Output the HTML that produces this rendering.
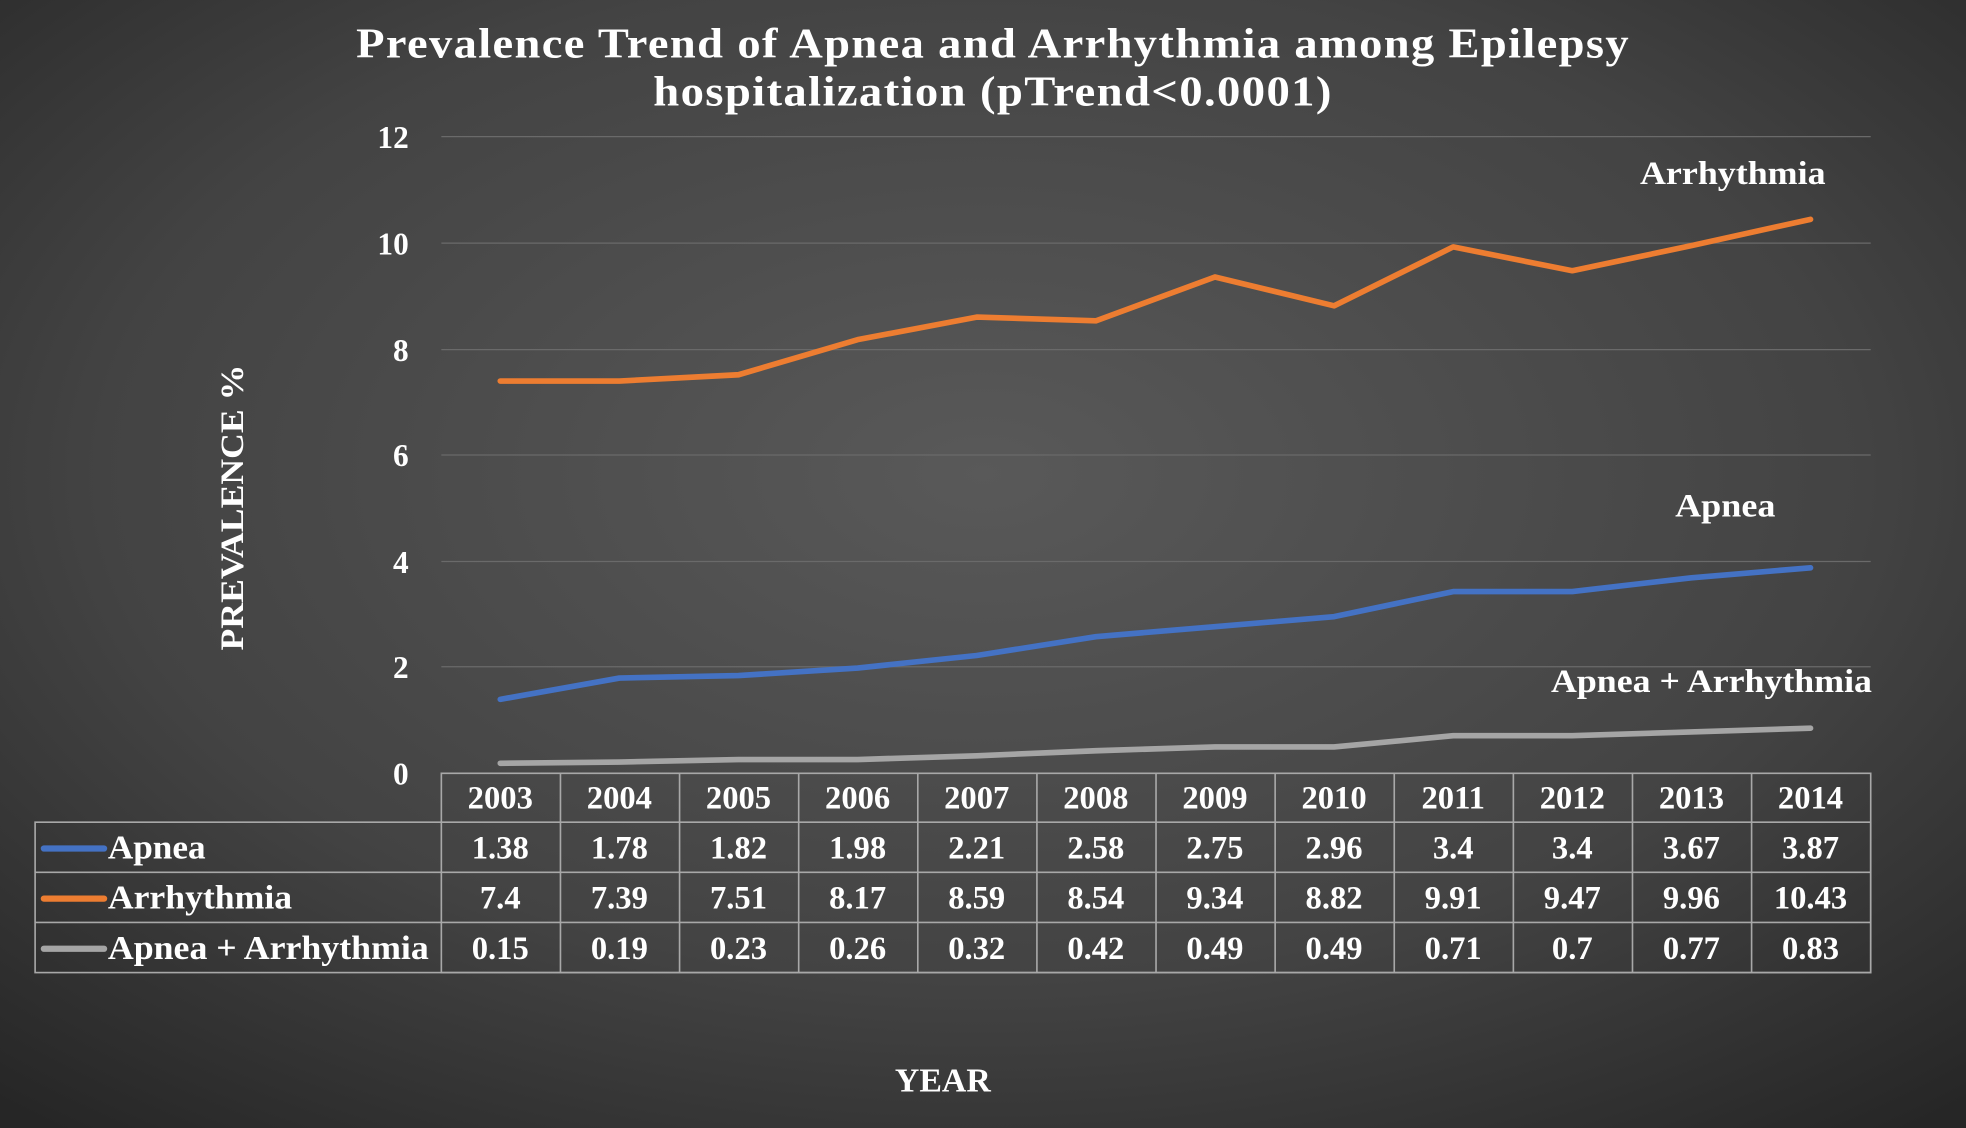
<!DOCTYPE html>
<html><head><meta charset="utf-8"><style>
html,body{margin:0;padding:0;width:1966px;height:1128px;overflow:hidden;background:#333;}
svg{display:block}
text{font-family:"Liberation Serif",serif;font-weight:bold;fill:#fff}
</style></head><body>
<svg width="1966" height="1128" viewBox="0 0 1568 900" preserveAspectRatio="none">
<defs>
<radialGradient id="bg" cx="50%" cy="42%" r="75%">
<stop offset="0" stop-color="#595959"/><stop offset="0.6" stop-color="#434343"/><stop offset="1" stop-color="#262626"/>
</radialGradient>
</defs>
<rect width="1568" height="900" fill="url(#bg)"/>
<text x="284" y="46" font-size="34" textLength="1016" lengthAdjust="spacingAndGlyphs" letter-spacing="1">Prevalence Trend of Apnea and Arrhythmia among Epilepsy</text>
<text x="521" y="84" font-size="34" textLength="542" lengthAdjust="spacingAndGlyphs" letter-spacing="1">hospitalization (pTrend&lt;0.0001)</text>
<g stroke="#6a6a6a" stroke-width="1">
<line x1="352" y1="109" x2="1492" y2="109"/><line x1="352" y1="194" x2="1492" y2="194"/>
<line x1="352" y1="279" x2="1492" y2="279"/><line x1="352" y1="363" x2="1492" y2="363"/>
<line x1="352" y1="448" x2="1492" y2="448"/><line x1="352" y1="532" x2="1492" y2="532"/>
</g>
<g font-size="25" text-anchor="end">
<text x="326" y="118">12</text><text x="326" y="203">10</text><text x="326" y="288">8</text>
<text x="326" y="372">6</text><text x="326" y="457">4</text><text x="326" y="541">2</text><text x="326" y="626">0</text>
</g>
<text transform="translate(194,405) rotate(-90)" font-size="26" text-anchor="middle" textLength="228" lengthAdjust="spacingAndGlyphs">PREVALENCE %</text>
<text x="752" y="871" font-size="27" text-anchor="middle">YEAR</text>
<g fill="none" stroke-width="4.5" stroke-linejoin="round" stroke-linecap="round">
<polyline stroke="#ED7D31" points="399,304 494,304 589,299 684,271 779,253 874,256 969,221 1064,244 1159,197 1254,216 1349,196 1444,175"/>
<polyline stroke="#4472C4" points="399,558 494,541 589,539 684,533 779,523 874,508 969,500 1064,492 1159,472 1254,472 1349,461 1444,453"/>
<polyline stroke="#A5A5A5" points="399,609 494,608 589,606 684,606 779,603 874,599 969,596 1064,596 1159,587 1254,587 1349,584 1444,581"/>
</g>
<text x="1308" y="147" font-size="26" textLength="148" lengthAdjust="spacingAndGlyphs">Arrhythmia</text>
<text x="1336" y="412" font-size="26" textLength="80" lengthAdjust="spacingAndGlyphs">Apnea</text>
<text x="1237" y="552" font-size="26" textLength="256" lengthAdjust="spacingAndGlyphs">Apnea + Arrhythmia</text>
<g stroke="#a8a8a8" stroke-width="1.3" fill="none">
<rect x="352" y="617" width="1140" height="159"/>
<rect x="28" y="656" width="1464" height="120"/>
<line x1="28" y1="696" x2="1492" y2="696"/><line x1="28" y1="736" x2="1492" y2="736"/>
<line x1="447" y1="617" x2="447" y2="776"/><line x1="542" y1="617" x2="542" y2="776"/>
<line x1="637" y1="617" x2="637" y2="776"/><line x1="732" y1="617" x2="732" y2="776"/>
<line x1="827" y1="617" x2="827" y2="776"/><line x1="922" y1="617" x2="922" y2="776"/>
<line x1="1017" y1="617" x2="1017" y2="776"/><line x1="1112" y1="617" x2="1112" y2="776"/>
<line x1="1207" y1="617" x2="1207" y2="776"/><line x1="1302" y1="617" x2="1302" y2="776"/>
<line x1="1397" y1="617" x2="1397" y2="776"/>
</g>
<g stroke-width="5" stroke-linecap="round">
<line x1="35" y1="677" x2="83" y2="677" stroke="#4472C4"/>
<line x1="35" y1="717" x2="83" y2="717" stroke="#ED7D31"/>
<line x1="35" y1="757" x2="83" y2="757" stroke="#A5A5A5"/>
</g>
<g font-size="27">
<text x="86" y="685" textLength="78" lengthAdjust="spacingAndGlyphs">Apnea</text>
<text x="86" y="725" textLength="147" lengthAdjust="spacingAndGlyphs">Arrhythmia</text>
<text x="86" y="765" textLength="256" lengthAdjust="spacingAndGlyphs">Apnea + Arrhythmia</text>
</g>
<g font-size="26" text-anchor="middle">
<text x="399" y="645">2003</text><text x="494" y="645">2004</text><text x="589" y="645">2005</text><text x="684" y="645">2006</text><text x="779" y="645">2007</text><text x="874" y="645">2008</text><text x="969" y="645">2009</text><text x="1064" y="645">2010</text><text x="1159" y="645">2011</text><text x="1254" y="645">2012</text><text x="1349" y="645">2013</text><text x="1444" y="645">2014</text>
<text x="399" y="685">1.38</text><text x="494" y="685">1.78</text><text x="589" y="685">1.82</text><text x="684" y="685">1.98</text><text x="779" y="685">2.21</text><text x="874" y="685">2.58</text><text x="969" y="685">2.75</text><text x="1064" y="685">2.96</text><text x="1159" y="685">3.4</text><text x="1254" y="685">3.4</text><text x="1349" y="685">3.67</text><text x="1444" y="685">3.87</text>
<text x="399" y="725">7.4</text><text x="494" y="725">7.39</text><text x="589" y="725">7.51</text><text x="684" y="725">8.17</text><text x="779" y="725">8.59</text><text x="874" y="725">8.54</text><text x="969" y="725">9.34</text><text x="1064" y="725">8.82</text><text x="1159" y="725">9.91</text><text x="1254" y="725">9.47</text><text x="1349" y="725">9.96</text><text x="1444" y="725">10.43</text>
<text x="399" y="765">0.15</text><text x="494" y="765">0.19</text><text x="589" y="765">0.23</text><text x="684" y="765">0.26</text><text x="779" y="765">0.32</text><text x="874" y="765">0.42</text><text x="969" y="765">0.49</text><text x="1064" y="765">0.49</text><text x="1159" y="765">0.71</text><text x="1254" y="765">0.7</text><text x="1349" y="765">0.77</text><text x="1444" y="765">0.83</text>
</g>
</svg>
</body></html>
